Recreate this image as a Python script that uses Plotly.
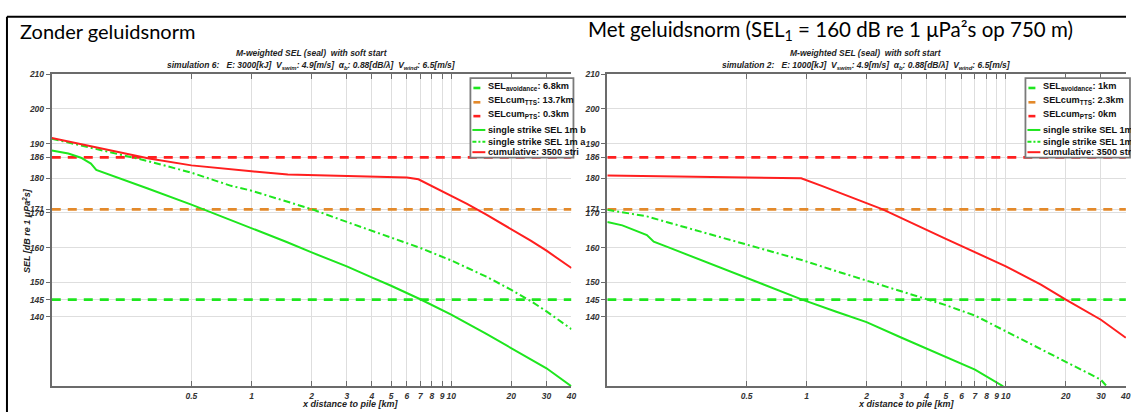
import numpy as np
import plotly.graph_objects as go

W, H = 1131, 412

# ---------------- data ----------------
# thresholds (dB)
sel_avoidance = 145
selcum_tts = 171
selcum_pts = 186
x_threshold = [0.1, 40]

# Left panel: simulation 6 (E = 3000 kJ)
l_single_x = [0.1, 0.121, 0.14, 0.157, 0.167, 0.2, 0.3, 0.5, 0.7, 1, 1.5, 2, 3, 4, 5, 7, 10, 15, 20, 30, 40]
l_single_y = [188.0, 187.1, 185.9, 184.2, 182.4, 180.8, 177.1, 172.4, 169.1, 165.8, 161.6, 158.6, 154.6, 151.4,
              149.0, 145.1, 140.7, 135.1, 130.9, 125.2, 120.0]
l_dashdot_x = [0.1, 0.15, 0.2, 0.244, 0.3, 0.5, 0.79, 1, 1.52, 2.02, 3, 4, 5, 7, 10, 15, 20, 25, 30, 40]
l_dashdot_y = [191.4, 189.0, 187.5, 186.3, 185.0, 181.6, 177.8, 176.4, 173.3, 171.0, 167.4, 164.9, 162.9, 159.9,
               156.3, 151.6, 147.8, 144.6, 141.6, 136.5]
l_cum_x = [0.1, 0.15, 0.173, 0.2, 0.307, 0.5, 0.79, 1, 1.52, 2, 3, 4, 5, 6, 6.85, 8, 10, 12, 15, 20, 25, 30, 40]
l_cum_y = [191.6, 189.5, 188.7, 187.9, 185.7, 183.7, 182.5, 182.0, 181.1, 180.9, 180.6, 180.5, 180.4, 180.2,
           179.7, 177.8, 175.0, 172.6, 169.5, 165.3, 162.0, 159.1, 154.1]

# Right panel: simulation 2 (E = 1000 kJ)
r_single_x = [0.1, 0.119, 0.158, 0.171, 0.2, 0.3, 0.5, 0.7, 0.95, 1.41, 2, 3, 4, 5, 7, 9.7]
r_single_y = [167.4, 166.4, 163.6, 161.7, 160.2, 156.3, 151.3, 148.0, 145.0, 141.5, 138.5, 134.0, 130.9, 128.4,
              124.8, 120.0]
r_dashdot_x = [0.1, 0.158, 0.2, 0.3, 0.5, 0.96, 1.41, 2, 3, 4, 5, 7, 10, 20, 30, 32.1]
r_dashdot_y = [170.9, 169.0, 167.3, 164.4, 160.8, 156.3, 153.2, 150.5, 147.5, 145.1, 143.4, 140.4, 135.9, 127.1,
               121.9, 120.0]
r_cum_x = [0.1, 0.2, 0.5, 0.94, 1.2, 2, 2.41, 5, 10, 15, 20, 30, 40]
r_cum_y = [180.8, 180.6, 180.3, 180.0, 177.7, 172.8, 171.0, 162.5, 154.6, 149.3, 145.0, 139.2, 134.0]

y_tickvals = [140, 145, 150, 160, 170, 171, 180, 186, 190, 200, 210]
x_tickvals = [0.5, 1, 2, 3, 4, 5, 6, 7, 8, 9, 10, 20, 30, 40]
x_ticktext = ["0.5", "1", "2", "3", "4", "5", "6", "7", "8", "9", "10", "20", "30", "40"]

legend_left = ["SEL<sub>avoidance</sub>: 6.8km", "SELcum<sub>TTS</sub>: 13.7km", "SELcum<sub>PTS</sub>: 0.3km",
               "single strike SEL 1m b", "single strike SEL 1m a", "cumulative: 3500 stri"]
legend_right = ["SEL<sub>avoidance</sub>: 1km", "SELcum<sub>TTS</sub>: 2.3km", "SELcum<sub>PTS</sub>: 0km",
                "single strike SEL 1m b", "single strike SEL 1m a", "cumulative: 3500 strikes"]

title_left = "Zonder geluidsnorm"
title_right = "Met geluidsnorm (SEL<sub>1</sub> = 160 dB re 1 μPa²s op 750 m)"
sub1 = "M-weighted SEL (seal)\u00a0 with soft start"
sub2_left = ("simulation 6:\u00a0\u00a0 E: 3000[kJ]\u00a0 V<sub>swim</sub>: 4.9[m/s]\u00a0 "
             "α<sub>b</sub>: 0.88[dB/λ]\u00a0 V<sub>wind</sub>: 6.5[m/s]")
sub2_right = ("simulation 2:\u00a0\u00a0 E: 1000[kJ]\u00a0 V<sub>swim</sub>: 4.9[m/s]\u00a0 "
              "α<sub>b</sub>: 0.88[dB/λ]\u00a0 V<sub>wind</sub>: 6.5[m/s]")
xlabel = "x distance to pile [km]"
ylabel = "SEL [dB re 1 <i>μ</i>Pa<sup>2</sup>s]"

# ---------------- style ----------------
GREEN = "#1ee61e"
RED = "#ff1f1f"
ORANGE = "#e3892a"
AX = "#6b6b6b"
GRID = "#dedede"
FONT = "Liberation Sans, Arial, sans-serif"

def px(x):
    return x / W

def py(y):
    return 1 - y / H

fig = go.Figure()

def add_panel(xa, ya, sx, sy, dx, dy, cx, cy):
    kw = dict(xaxis=xa, yaxis=ya, mode="lines", showlegend=False, hoverinfo="skip")
    fig.add_trace(go.Scatter(x=x_threshold, y=[sel_avoidance] * 2,
                             line=dict(color=GREEN, width=2.8, dash="9px,7px"), **kw))
    fig.add_trace(go.Scatter(x=x_threshold, y=[selcum_tts] * 2,
                             line=dict(color=ORANGE, width=2.8, dash="9px,7px"), **kw))
    fig.add_trace(go.Scatter(x=x_threshold, y=[selcum_pts] * 2,
                             line=dict(color=RED, width=2.8, dash="9px,7px"), **kw))
    fig.add_trace(go.Scatter(x=sx, y=sy, line=dict(color=GREEN, width=2), **kw))
    fig.add_trace(go.Scatter(x=dx, y=dy, line=dict(color=GREEN, width=2, dash="7px,3px,2px,3px"), **kw))
    fig.add_trace(go.Scatter(x=cx, y=cy, line=dict(color=RED, width=2), **kw))

add_panel("x", "y", l_single_x, l_single_y, l_dashdot_x, l_dashdot_y, l_cum_x, l_cum_y)
add_panel("x2", "y2", r_single_x, r_single_y, r_dashdot_x, r_dashdot_y, r_cum_x, r_cum_y)

tickfont = dict(family=FONT, size=8.5, color="#333333", weight="bold", style="italic")

def xaxis(dom, rng):
    return dict(type="log", domain=dom, range=rng, tickvals=x_tickvals, ticktext=x_ticktext,
                tickangle=0, showgrid=True, gridcolor=GRID, gridwidth=1, zeroline=False,
                showline=True, linecolor=AX, linewidth=2, mirror="ticks",
                ticks="inside", ticklen=5, tickwidth=1.2, tickcolor=AX, tickfont=tickfont)

def yaxis(anchor):
    return dict(domain=[py(386), py(70)], range=[120, 210], tickvals=y_tickvals,
                showgrid=True, gridcolor=GRID, gridwidth=1, zeroline=False,
                showline=True, linecolor=AX, linewidth=2, anchor=anchor,
                ticks="outside", ticklen=4, tickwidth=1.2, tickcolor=AX, tickfont=tickfont)

fig.update_layout(
    width=W, height=H, autosize=False,
    margin=dict(l=0, r=0, t=0, b=0),
    paper_bgcolor="white", plot_bgcolor="white",
    xaxis=xaxis([px(52), px(574)], [-1, np.log10(40)]) | dict(anchor="y"),
    yaxis=yaxis("x"),
    xaxis2=xaxis([px(610), 1.0], [-1, 1.603]) | dict(anchor="y2"),
    yaxis2=yaxis("x2"),
)

shapes = []
annotations = []

# outer frame (top and left)
shapes.append(dict(type="line", xref="paper", yref="paper", x0=px(7), x1=1, y0=py(12), y1=py(12),
                   line=dict(color="black", width=2)))
shapes.append(dict(type="line", xref="paper", yref="paper", x0=px(7), x1=px(7), y0=py(12), y1=0,
                   line=dict(color="black", width=2)))

def ann(x, y, text, size=8, xanchor="center", yanchor="middle", angle=0, color="#222222", family=FONT):
    annotations.append(dict(x=px(x), y=py(y), xref="paper", yref="paper", text=text, showarrow=False,
                            xanchor=xanchor, yanchor=yanchor, textangle=angle,
                            font=dict(family=family, size=size, color=color)))

# big headers
ann(18, 26, title_left, size=20, xanchor="left", color="black", family="Lato, Carlito, sans-serif")
ann(589, 26, title_right, size=20.5, xanchor="left", color="black", family="Lato, Carlito, sans-serif")

# chart titles
for cx, s2 in [(313, sub2_left), (870, sub2_right)]:
    ann(cx, 49, "<b><i>" + sub1 + "</i></b>", size=8.5)
    ann(cx, 61, "<b><i>" + s2 + "</i></b>", size=8.5)

# axis labels
ann(352, 404, "<b><i>" + xlabel + "</i></b>", size=9)
ann(911, 404, "<b><i>" + xlabel + "</i></b>", size=9)
ann(27, 228, "<b><i>" + ylabel + "</i></b>", size=9, angle=-90)

# legends
row_y = [84, 98.5, 112.5, 126.5, 138.5, 149]
sym_cols = [GREEN, ORANGE, RED, GREEN, GREEN, RED]
sym_dash = [None, None, None, "solid", "4px,2px,2px,2px", "solid"]

def legend(box_x, box_right, texts):
    shapes.append(dict(type="rect", xref="paper", yref="paper", x0=px(box_x), x1=px(box_right),
                       y0=py(154.5), y1=py(74), fillcolor="white",
                       line=dict(color="#7a7a7a", width=1.8)))
    for i, t in enumerate(texts):
        y = row_y[i]
        if i < 3:
            x0, x1, wd, dsh = box_x + 3, box_x + 10, 2.6, "solid"
        else:
            x0, x1, wd, dsh = box_x + 2, box_x + 15, 2, sym_dash[i]
        shapes.append(dict(type="line", xref="paper", yref="paper", x0=px(x0), x1=px(x1),
                           y0=py(y), y1=py(y), line=dict(color=sym_cols[i], width=wd, dash=dsh)))
        ann(box_x + 15.5, y - (1.5 if "<sub>" in t else 0), "<b>" + t + "</b>", size=9.2,
            xanchor="left", color="#111111")

legend(472.5, 576, legend_left)
legend(1030, 1135, legend_right)

fig.update_layout(shapes=shapes, annotations=annotations)

fig.write_html("out.html", config={"displayModeBar": False})
